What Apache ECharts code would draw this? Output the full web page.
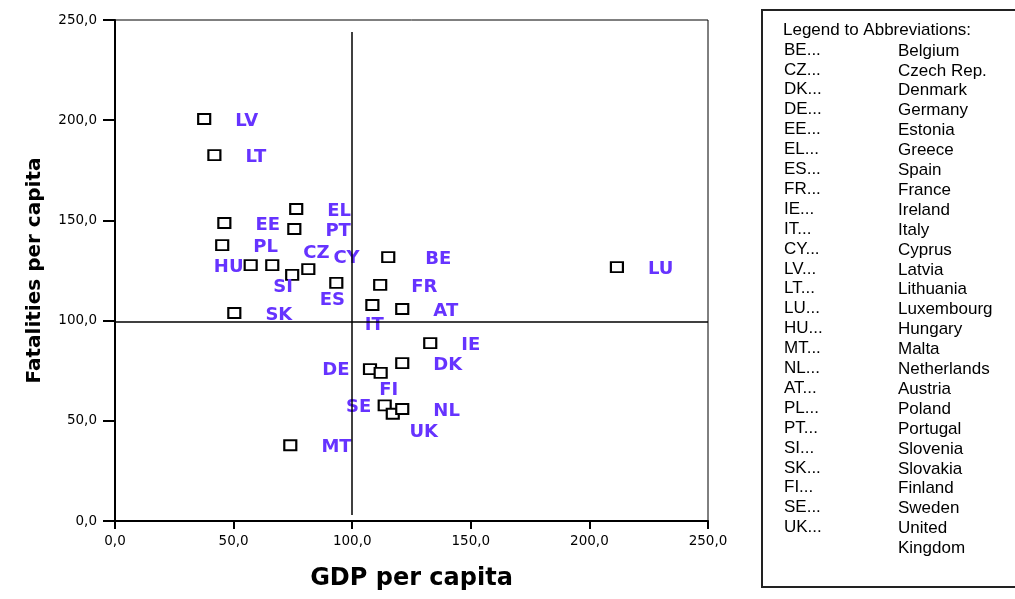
<!DOCTYPE html>
<html>
<head>
<meta charset="utf-8">
<title>Fatalities vs GDP per capita</title>
<script src="https://cdn.jsdelivr.net/npm/echarts@6.0.0/dist/echarts.min.js"></script>
<style>
  html, body { margin: 0; padding: 0; background: #fff; }
  #chart { width: 1015px; height: 599px; }
</style>
</head>
<body>
<div id="chart"></div>
<script>
// country codes and values (index 100 = EU average)
const codes = ['LV', 'LT', 'EL', 'EE', 'PT', 'PL', 'HU', 'CZ', 'SI', 'CY', 'ES', 'SK', 'BE',
  'FR', 'IT', 'AT', 'IE', 'DE', 'FI', 'DK', 'SE', 'UK', 'NL', 'MT', 'LU']
const gdp = [37.6, 41.9, 76.4, 46.1, 75.6, 45.2, 57.2, 66.3, 74.7, 81.5, 93.3, 50.3, 115.2,
  111.8, 108.5, 121.1, 132.9, 107.5, 112.0, 121.1, 113.7, 117.1, 121.1, 73.9, 211.6]
const fatalities = [200.6, 182.6, 155.7, 148.7, 145.7, 137.7, 127.7, 127.7, 122.8, 125.7, 118.8, 103.8, 131.7,
  117.8, 107.8, 105.8, 88.8, 75.8, 73.9, 78.8, 57.7, 53.5, 55.9, 37.8, 126.7]

// reference lines
const refGdp = 100
const refFatalities = 99.5
const refGdpSpan = [3, 244]

const axisTicks = [0, 50, 100, 150, 200, 250]

// legend box
const legendCodes = ['BE', 'CZ', 'DK', 'DE', 'EE', 'EL', 'ES', 'FR', 'IE', 'IT', 'CY', 'LV', 'LT',
  'LU', 'HU', 'MT', 'NL', 'AT', 'PL', 'PT', 'SI', 'SK', 'FI', 'SE', 'UK']
const legendNames = ['Belgium', 'Czech Rep.', 'Denmark', 'Germany', 'Estonia', 'Greece', 'Spain', 'France',
  'Ireland', 'Italy', 'Cyprus', 'Latvia', 'Lithuania', 'Luxembourg', 'Hungary', 'Malta', 'Netherlands',
  'Austria', 'Poland', 'Portugal', 'Slovenia', 'Slovakia', 'Finland', 'Sweden', 'United\nKingdom']

// labels that are not simply to the right of their point
const labelPlacement = {
  HU: { position: 'inside', offset: [-22, 2] },
  CZ: { position: 'right', offset: [0, -12] },
  SI: { position: 'inside', offset: [-9, 12] },
  CY: { position: 'right', offset: [-6, -11] },
  ES: { position: 'inside', offset: [-4, 17] },
  IT: { position: 'inside', offset: [2, 20] },
  DE: { position: 'inside', offset: [-34, 1] },
  FI: { position: 'inside', offset: [8, 17] },
  SE: { position: 'inside', offset: [-26, 2] },
  UK: { position: 'inside', offset: [31, 19] },
  BE: { position: 'right', offset: [6, 2] }
}

const fmt = v => v.toFixed(1).replace('.', ',')

const chart = echarts.init(document.getElementById('chart'), null, { renderer: 'canvas' })

const points = codes.map((c, i) => {
  const item = { name: c, value: [gdp[i], fatalities[i]] }
  if (labelPlacement[c]) {
    item.label = labelPlacement[c]
  }
  return item
})

const legendFont = { fontFamily: '"Liberation Sans", Arial, sans-serif', fontSize: 17, fill: '#000' }
const legendItems = [
  {
    type: 'rect',
    shape: { x: 762, y: 10, width: 270, height: 577 },
    style: { fill: '#fff', stroke: '#222', lineWidth: 2 }
  },
  {
    type: 'text',
    x: 783,
    y: 30,
    style: Object.assign({ text: 'Legend to Abbreviations:', verticalAlign: 'middle' }, legendFont)
  }
]
legendCodes.forEach((c, i) => {
  const y = 50 + i * 19.9
  legendItems.push({
    type: 'text', x: 784, y: y,
    style: Object.assign({ text: c + '...', verticalAlign: 'middle' }, legendFont)
  })
  legendItems.push({
    type: 'text', x: 898, y: y - 9,
    style: Object.assign({ text: legendNames[i], verticalAlign: 'top', lineHeight: 19.9 }, legendFont)
  })
})

chart.setOption({
  backgroundColor: '#fff',
  animation: false,
  grid: {
    left: 115,
    top: 20,
    right: 307,
    bottom: 78,
    show: true,
    borderColor: '#000',
    borderWidth: 1,
    backgroundColor: 'transparent'
  },
  xAxis: {
    type: 'value',
    min: axisTicks[0],
    max: axisTicks[axisTicks.length - 1],
    interval: 50,
    name: 'GDP per capita',
    nameLocation: 'middle',
    nameGap: 46,
    nameTextStyle: {
      fontFamily: '"DejaVu Sans", sans-serif',
      fontSize: 24,
      fontWeight: 'bold',
      color: '#000'
    },
    axisLine: { show: true, onZero: false, lineStyle: { color: '#000', width: 2 } },
    axisTick: { show: true, length: 8, lineStyle: { color: '#000', width: 2 } },
    axisLabel: {
      margin: 13,
      formatter: fmt,
      fontFamily: '"DejaVu Sans", sans-serif',
      fontSize: 13.5,
      color: '#000'
    },
    splitLine: { show: false }
  },
  yAxis: {
    type: 'value',
    min: axisTicks[0],
    max: axisTicks[axisTicks.length - 1],
    interval: 50,
    name: 'Fatalities per capita',
    nameLocation: 'middle',
    nameGap: 70,
    nameTextStyle: {
      fontFamily: '"DejaVu Sans", sans-serif',
      fontSize: 20,
      fontWeight: 'bold',
      color: '#000'
    },
    axisLine: { show: true, onZero: false, lineStyle: { color: '#000', width: 2 } },
    axisTick: { show: true, length: 12, lineStyle: { color: '#000', width: 2 } },
    axisLabel: {
      margin: 18,
      formatter: fmt,
      fontFamily: '"DejaVu Sans", sans-serif',
      fontSize: 13.5,
      color: '#000'
    },
    splitLine: { show: false }
  },
  graphic: legendItems,
  series: [{
    type: 'scatter',
    symbol: 'rect',
    symbolSize: [12, 10],
    itemStyle: {
      color: '#fff',
      borderColor: '#000',
      borderWidth: 2,
      opacity: 1
    },
    label: {
      show: true,
      position: 'right',
      distance: 24,
      offset: [0, 2],
      formatter: '{b}',
      fontFamily: '"DejaVu Sans", sans-serif',
      fontWeight: 'bold',
      fontSize: 18,
      color: '#6633ff'
    },
    emphasis: { disabled: true },
    data: points,
    markLine: {
      silent: true,
      symbol: 'none',
      animation: false,
      label: { show: false },
      lineStyle: { color: '#000', width: 1.5, type: 'solid' },
      data: [
        { yAxis: refFatalities },
        [{ coord: [refGdp, refGdpSpan[0]] }, { coord: [refGdp, refGdpSpan[1]] }]
      ]
    }
  }]
})
</script>
</body>
</html>
